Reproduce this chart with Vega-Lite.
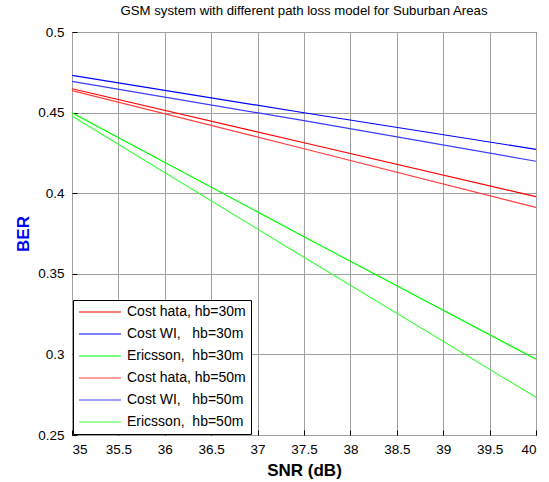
{
  "$schema": "https://vega.github.io/schema/vega-lite/v6.json",
  "width": 464,
  "height": 403,
  "autosize": "none",
  "padding": {"left": 72, "top": 32, "right": 13, "bottom": 47},
  "background": "white",
  "title": {
    "text": "GSM system with different path loss model for Suburban Areas",
    "font": "Liberation Sans",
    "fontSize": 13.2,
    "fontWeight": "normal",
    "color": "black",
    "offset": 7
  },
  "config": {
    "view": {"stroke": "black", "strokeWidth": 1},
    "font": "Liberation Sans",
    "axis": {
      "grid": true,
      "gridColor": "#a0a0a0",
      "gridWidth": 1,
      "gridOpacity": 1,
      "domain": false,
      "ticks": true,
      "tickSize": -5,
      "tickColor": "black",
      "labelFont": "Liberation Sans",
      "labelFontSize": 13.5,
      "labelColor": "black",
      "titleFont": "Liberation Sans",
      "titleFontSize": 17,
      "titleFontWeight": "bold"
    },
    "legend": {
      "strokeColor": "black",
      "fillColor": "white",
      "padding": 5,
      "cornerRadius": 0
    }
  },
  "data": {
    "values": [
      {"series": "Cost hata, hb=30m", "snr": 35, "ber": 0.4648},
      {"series": "Cost hata, hb=30m", "snr": 37.5, "ber": 0.4313},
      {"series": "Cost hata, hb=30m", "snr": 40, "ber": 0.3979},
      {"series": "Cost WI,\u00a0\u00a0\u00a0hb=30m", "snr": 35, "ber": 0.4731},
      {"series": "Cost WI,\u00a0\u00a0\u00a0hb=30m", "snr": 37.5, "ber": 0.4499},
      {"series": "Cost WI,\u00a0\u00a0\u00a0hb=30m", "snr": 40, "ber": 0.4272},
      {"series": "Ericsson,\u00a0\u00a0hb=30m", "snr": 35, "ber": 0.4499},
      {"series": "Ericsson,\u00a0\u00a0hb=30m", "snr": 37.5, "ber": 0.3730},
      {"series": "Ericsson,\u00a0\u00a0hb=30m", "snr": 40, "ber": 0.2970},
      {"series": "Cost hata, hb=50m", "snr": 35, "ber": 0.4636},
      {"series": "Cost hata, hb=50m", "snr": 37.5, "ber": 0.4276},
      {"series": "Cost hata, hb=50m", "snr": 40, "ber": 0.3912},
      {"series": "Cost WI,\u00a0\u00a0\u00a0hb=50m", "snr": 35, "ber": 0.4694},
      {"series": "Cost WI,\u00a0\u00a0\u00a0hb=50m", "snr": 37.5, "ber": 0.4450},
      {"series": "Cost WI,\u00a0\u00a0\u00a0hb=50m", "snr": 40, "ber": 0.4198},
      {"series": "Ericsson,\u00a0\u00a0hb=50m", "snr": 35, "ber": 0.4479},
      {"series": "Ericsson,\u00a0\u00a0hb=50m", "snr": 37.5, "ber": 0.3602},
      {"series": "Ericsson,\u00a0\u00a0hb=50m", "snr": 40, "ber": 0.2734}
    ]
  },
  "mark": {"type": "line", "strokeWidth": 1.2, "clip": true},
  "encoding": {
    "x": {
      "field": "snr",
      "type": "quantitative",
      "scale": {"domain": [35, 40], "nice": false, "zero": false},
      "axis": {
        "values": [35, 35.5, 36, 36.5, 37, 37.5, 38, 38.5, 39, 39.5, 40],
        "format": "~g",
        "title": "SNR (dB)",
        "titleColor": "black",
        "labelPadding": 12,
        "titlePadding": 7
      }
    },
    "y": {
      "field": "ber",
      "type": "quantitative",
      "scale": {"domain": [0.25, 0.5], "nice": false, "zero": false},
      "axis": {
        "values": [0.25, 0.3, 0.35, 0.4, 0.45, 0.5],
        "format": "~g",
        "title": "BER",
        "titleColor": "#0000ff",
        "labelPadding": 13,
        "titlePadding": 5
      }
    },
    "color": {
      "field": "series",
      "type": "nominal",
      "scale": {
        "domain": [
          "Cost hata, hb=30m",
          "Cost WI,\u00a0\u00a0\u00a0hb=30m",
          "Ericsson,\u00a0\u00a0hb=30m",
          "Cost hata, hb=50m",
          "Cost WI,\u00a0\u00a0\u00a0hb=50m",
          "Ericsson,\u00a0\u00a0hb=50m"
        ],
        "range": ["#ff0000", "#0000ff", "#00ff00", "#ff3c3c", "#3c3cff", "#3cff3c"]
      },
      "legend": {
        "title": null,
        "orient": "bottom-left",
        "offset": 1,
        "symbolType": "stroke",
        "symbolSize": 1764,
        "symbolStrokeWidth": 1.2,
        "labelFont": "Liberation Sans",
        "labelFontSize": 14,
        "labelColor": "black",
        "labelOffset": 5,
        "clipHeight": 14,
        "rowPadding": 8,
        "padding": 5,
        "labelLimit": 300
      }
    }
  }
}
